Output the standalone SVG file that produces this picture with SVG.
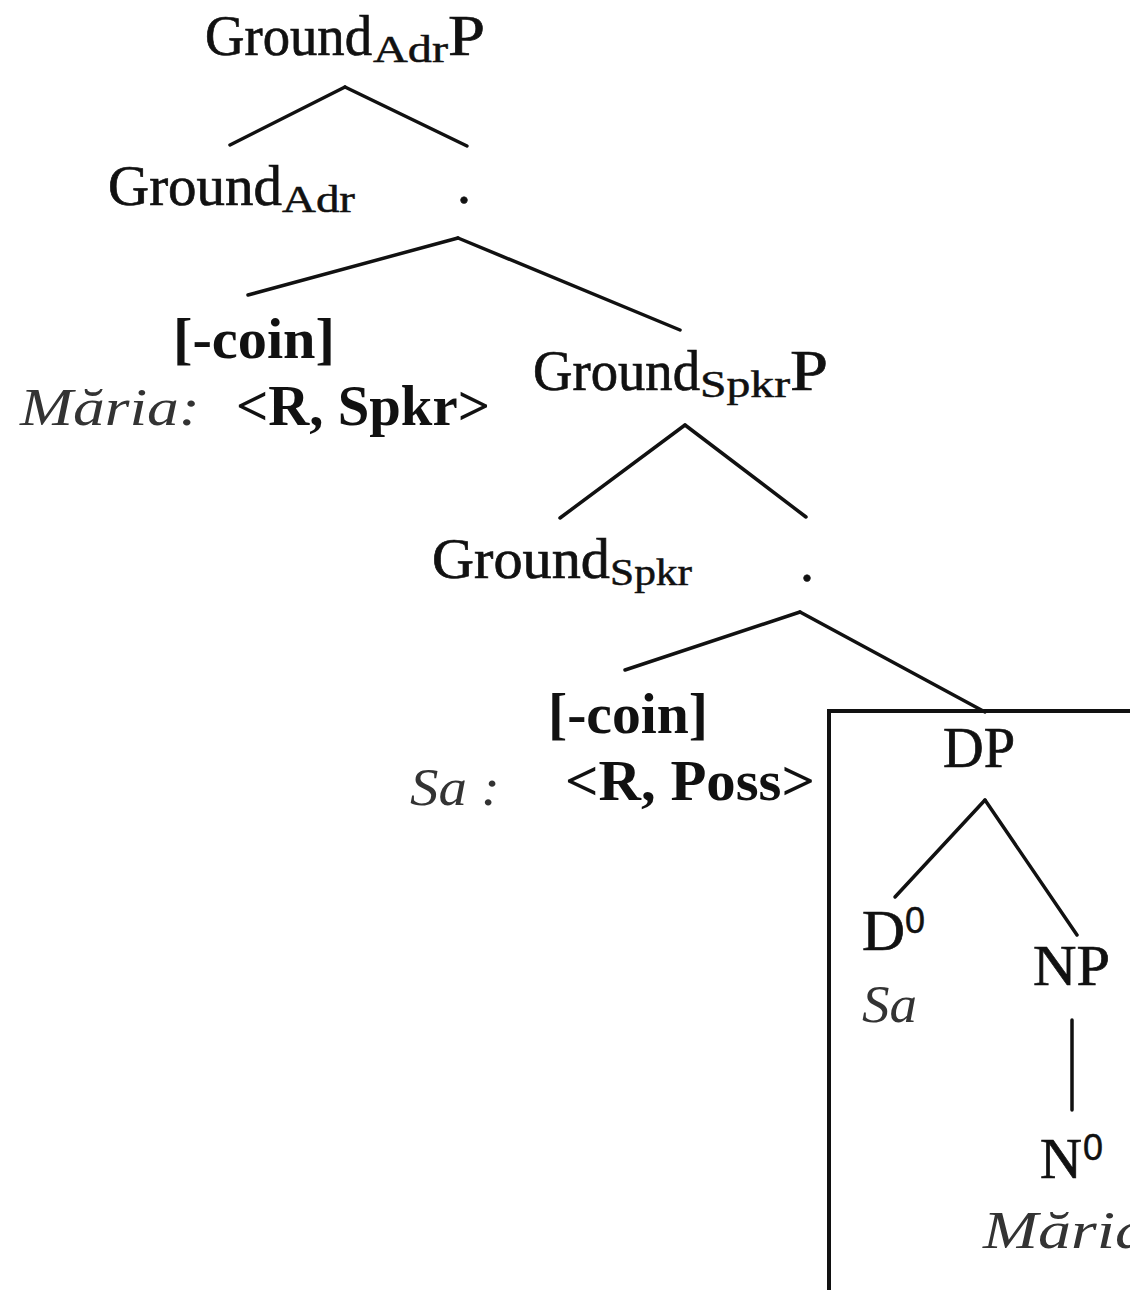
<svg xmlns="http://www.w3.org/2000/svg" width="1130" height="1290" viewBox="0 0 1130 1290">
<style>
text{font-family:"Liberation Serif","Times New Roman",serif;fill:#111;}
.m{font-size:56px;stroke:#111;stroke-width:0.7;}
.s{font-size:38px;stroke:#111;stroke-width:0.5;}
.b{font-size:56px;font-weight:bold;}
.i{font-size:52px;font-style:italic;fill:#333;}
.z{font-family:"Liberation Sans",Arial,sans-serif;font-size:36px;stroke:#111;stroke-width:0.5;}
.e{stroke:#111;stroke-width:3.5;fill:none;stroke-linecap:round;}
</style>
<rect width="1130" height="1290" fill="#fff"/>
<g id="connectors">
<line class="e" x1="345" y1="87" x2="230" y2="145"/>
<line class="e" x1="345" y1="87" x2="467" y2="146"/>
<line class="e" x1="458" y1="238" x2="248" y2="295"/>
<line class="e" x1="458" y1="238" x2="680" y2="330"/>
<line class="e" x1="685" y1="425" x2="560" y2="518"/>
<line class="e" x1="685" y1="425" x2="806" y2="517"/>
<line class="e" x1="800" y1="612" x2="625" y2="670"/>
<line class="e" x1="800" y1="612" x2="985" y2="712"/>
<line class="e" x1="985" y1="800" x2="895" y2="897"/>
<line class="e" x1="985" y1="800" x2="1077" y2="935"/>
<line class="e" x1="1072" y1="1020" x2="1072" y2="1110"/>
</g>
<g id="box"><rect x="829" y="711" width="330" height="600" fill="none" stroke="#111" stroke-width="4"/></g>
<g id="groundAdrP">
<text class="m" x="205" y="55" textLength="167" lengthAdjust="spacingAndGlyphs">Ground</text>
<text class="s" x="373" y="62" textLength="75" lengthAdjust="spacingAndGlyphs">Adr</text>
<text class="m" x="448" y="55" textLength="37" lengthAdjust="spacingAndGlyphs">P</text>
</g>
<g id="groundAdr">
<text class="m" x="108" y="205" textLength="174" lengthAdjust="spacingAndGlyphs">Ground</text>
<text class="s" x="282" y="212" textLength="73" lengthAdjust="spacingAndGlyphs">Adr</text>
</g>
<g id="dot1"><text class="m" x="457" y="203">.</text></g>
<g id="coin1">
<text class="b" x="173" y="358" textLength="162" lengthAdjust="spacingAndGlyphs">[-coin]</text>
<text class="i" x="20" y="425" textLength="180" lengthAdjust="spacingAndGlyphs">Măria:</text>
<text class="b" x="236" y="425" textLength="254" lengthAdjust="spacingAndGlyphs">&lt;R, Spkr&gt;</text>
</g>
<g id="groundSpkrP">
<text class="m" x="533" y="390" textLength="167" lengthAdjust="spacingAndGlyphs">Ground</text>
<text class="s" x="700" y="397" textLength="90" lengthAdjust="spacingAndGlyphs">Spkr</text>
<text class="m" x="790" y="390" textLength="38" lengthAdjust="spacingAndGlyphs">P</text>
</g>
<g id="groundSpkr">
<text class="m" x="432" y="578" textLength="178" lengthAdjust="spacingAndGlyphs">Ground</text>
<text class="s" x="610" y="585" textLength="82" lengthAdjust="spacingAndGlyphs">Spkr</text>
</g>
<g id="dot2"><text class="m" x="800" y="581">.</text></g>
<g id="coin2">
<text class="b" x="548" y="733" textLength="160" lengthAdjust="spacingAndGlyphs">[-coin]</text>
<text class="i" x="410" y="805" textLength="90" lengthAdjust="spacingAndGlyphs">Sa :</text>
<text class="b" x="565" y="800" textLength="250" lengthAdjust="spacingAndGlyphs">&lt;R, Poss&gt;</text>
</g>
<g id="DP"><text class="m" x="943" y="767" textLength="72" lengthAdjust="spacingAndGlyphs">DP</text></g>
<g id="D0">
<text class="m" x="862" y="950" textLength="43" lengthAdjust="spacingAndGlyphs">D</text>
<text class="z" x="905" y="933" textLength="20" lengthAdjust="spacingAndGlyphs">0</text>
<text class="i" x="862" y="1022" textLength="55" lengthAdjust="spacingAndGlyphs">Sa</text>
</g>
<g id="NP"><text class="m" x="1033" y="985" textLength="77" lengthAdjust="spacingAndGlyphs">NP</text></g>
<g id="N0">
<text class="m" x="1040" y="1178" textLength="42" lengthAdjust="spacingAndGlyphs">N</text>
<text class="z" x="1083" y="1160" textLength="20" lengthAdjust="spacingAndGlyphs">0</text>
<text class="i" x="983" y="1248" textLength="165" lengthAdjust="spacingAndGlyphs">Măria</text>
</g>
</svg>
